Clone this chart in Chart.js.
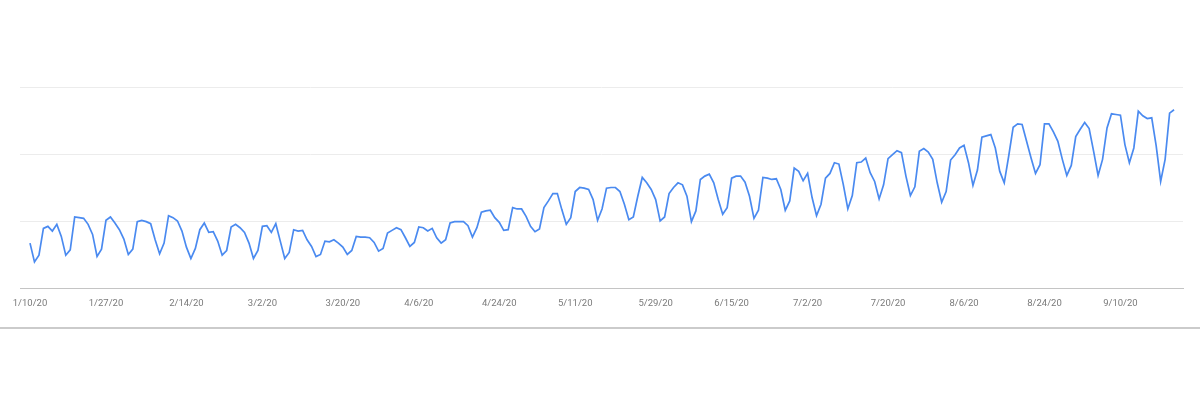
<!DOCTYPE html>
<html>
<head>
<meta charset="utf-8">
<script src="https://cdn.jsdelivr.net/npm/chart.js@4.4.0/dist/chart.umd.min.js"></script>
<style>
    html, body { margin: 0; padding: 0; background: #fff; }
    .card {
        position: relative;
        width: 1200px;
        height: 327px;
        background: #fff;
        border-bottom: 2px solid #cbcbcb;
        box-shadow: 0 2px 2px rgba(0,0,0,0.08), 0 4px 6px rgba(0,0,0,0.05);
    }
</style>
</head>
<body>
<div class="card">
    <canvas id="clicksChart"></canvas>
</div>
<script>
// Daily clicks, 1/10/20 .. 9/22/20 (index = days since 1/10/20)
const clicks = [
    67, 39, 49, 89, 92, 85, 95, 77, 49, 57,
    106, 105, 104, 95, 80, 47, 58, 101, 106, 97,
    87, 73, 50, 58, 99, 101, 99, 96, 72, 51,
    67, 108, 105, 100, 85, 61, 44, 59, 87, 97,
    83, 84, 70, 49, 56, 91, 95, 90, 83, 67,
    44, 56, 92, 93, 83, 96, 70, 44, 53, 87,
    85, 86, 72, 62, 47, 50, 70, 69, 72, 67,
    61, 50, 56, 77, 76, 76, 75, 68, 55, 59,
    82, 86, 90, 87, 75, 62, 68, 91, 90, 85,
    89, 75, 67, 72, 97, 99, 99, 99, 93, 76,
    90, 113, 115, 116, 105, 98, 86, 87, 120, 118,
    118, 107, 92, 84, 88, 120, 130, 141, 141, 117,
    95, 105, 144, 150, 149, 147, 132, 101, 118, 149,
    150, 150, 144, 125, 102, 106, 137, 165, 157, 147,
    132, 100, 106, 141, 150, 157, 154, 137, 99, 115,
    162, 167, 170, 157, 132, 110, 120, 164, 167, 167,
    158, 137, 104, 116, 165, 164, 162, 163, 147, 116,
    130, 179, 174, 160, 171, 135, 108, 125, 164, 171,
    187, 185, 154, 118, 138, 187, 188, 194, 172, 159,
    133, 154, 193, 199, 205, 202, 167, 138, 151, 204,
    208, 203, 192, 157, 128, 144, 191, 199, 209, 213,
    187, 153, 176, 225, 227, 229, 209, 174, 157, 197,
    240, 245, 244, 219, 194, 171, 184, 245, 245, 233,
    219, 192, 168, 183, 226, 237, 247, 238, 204, 168,
    192, 239, 260, 259, 258, 214, 187, 209, 264, 257,
    253, 254, 212, 159, 192, 261, 266
];

// x-axis ticks (day index) and their labels
const tickDays = [0, 17, 35, 52, 70, 87, 105, 122, 140, 157, 174, 192, 209, 227, 244];
const tickLabels = ['1/10/20', '1/27/20', '2/14/20', '3/2/20', '3/20/20', '4/6/20', '4/24/20',
    '5/11/20', '5/29/20', '6/15/20', '7/2/20', '7/20/20', '8/6/20', '8/24/20', '9/10/20'];

const yTicks = [0, 100, 200, 300];

document.addEventListener('DOMContentLoaded', () => {
    const ctx = document.getElementById('clicksChart').getContext('2d');

    new Chart(ctx, {
        type: 'line',
        data: {
            datasets: [{
                label: 'Clicks',
                data: clicks.map((v, i) => ({ x: i, y: v })),
                borderColor: '#4a8af0',
                borderWidth: 1.7,
                pointRadius: 0,
                tension: 0,
                fill: false
            }]
        },
        options: {
            responsive: true,
            maintainAspectRatio: false,
            animation: false,
            layout: {
                padding: { left: 20, right: 17, top: 87, bottom: 0 }
            },
            plugins: {
                legend: { display: false },
                tooltip: { enabled: false }
            },
            scales: {
                x: {
                    type: 'linear',
                    min: -2.24,
                    max: 258,
                    grid: { display: false, drawTicks: false },
                    border: { display: true, color: '#c4c4c4', width: 1 },
                    afterBuildTicks: (scale) => {
                        scale.ticks = tickDays.map(v => ({ value: v }));
                    },
                    afterFit: (scale) => { scale.height = 39; },
                    ticks: {
                        autoSkip: false,
                        maxRotation: 0,
                        padding: 10,
                        color: '#7a7a7a',
                        font: { family: 'Roboto', size: 9.5 },
                        callback: (value) => tickLabels[tickDays.indexOf(value)]
                    }
                },
                y: {
                    min: 0,
                    max: 300,
                    afterBuildTicks: (scale) => {
                        scale.ticks = yTicks.map(v => ({ value: v }));
                    },
                    afterFit: (scale) => { scale.width = 0; },
                    grid: {
                        drawTicks: false,
                        color: (c) => c.tick && c.tick.value === 0 ? 'rgba(0,0,0,0)' : '#ececec'
                    },
                    border: { display: false },
                    ticks: { display: false }
                }
            }
        }
    });
});
</script>
</body>
</html>
